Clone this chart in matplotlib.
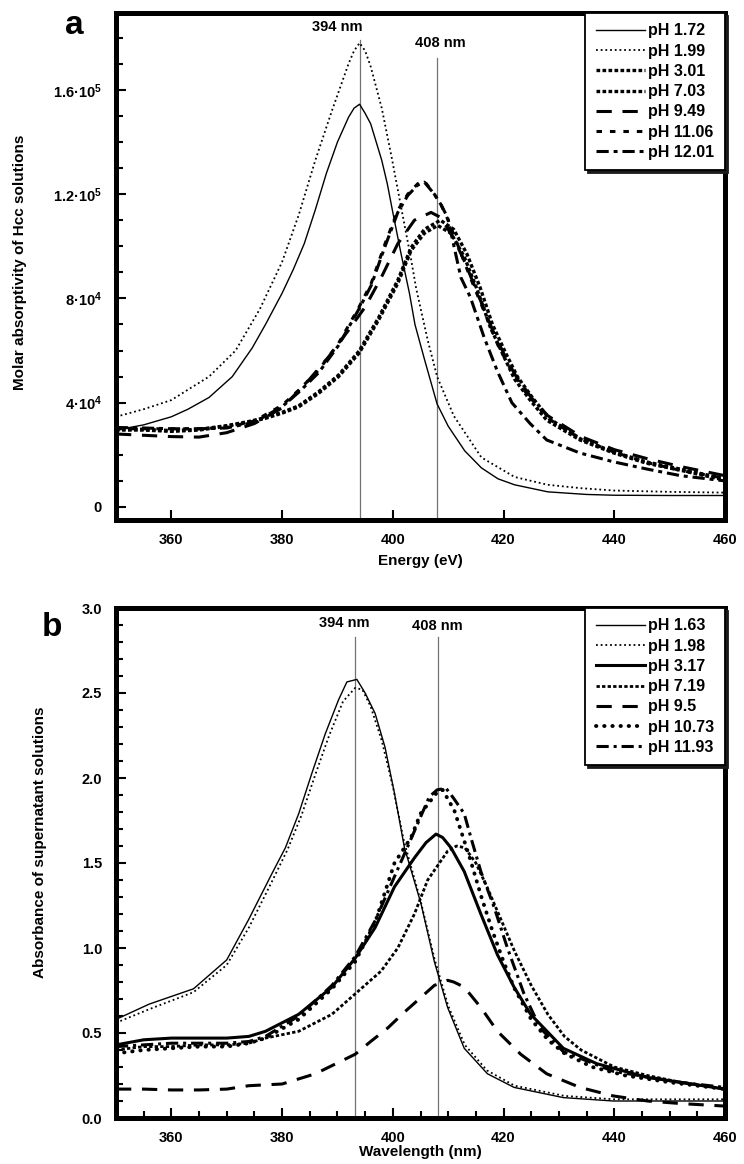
import matplotlib
matplotlib.use("Agg")
import matplotlib.pyplot as plt
from matplotlib.ticker import MultipleLocator

plt.rcParams['font.family'] = ['Liberation Sans', 'DejaVu Sans']
plt.rcParams['font.weight'] = 'bold'
plt.rcParams['mathtext.fontset'] = 'custom'
plt.rcParams['mathtext.rm'] = 'Liberation Sans:bold'
plt.rcParams['mathtext.bf'] = 'Liberation Sans:bold'
plt.rcParams['mathtext.default'] = 'bf'

# ---------------- Panel a data (molar absorptivity) ----------------
a_ph172_x = [350, 355, 360, 363, 366.8, 371, 374.6, 377, 380, 382, 384, 386, 388, 390, 392, 393, 394,
             395, 396, 397, 398, 399, 400, 401.5, 403, 404, 405.8, 408, 410, 413, 416, 419, 422, 428,
             435, 440, 450, 460]
a_ph172_y = [29500, 31500, 34600, 37500, 42000, 50000, 61000, 70000, 82000, 91000, 101000, 114000, 128000,
             140000, 149500, 153000, 154500, 151000, 147000, 140000, 133000, 124000, 113000, 97000, 82000,
             70000, 56000, 39500, 31000, 21500, 15000, 10800, 8500, 5800, 4800, 4500, 4400, 4400]

a_ph199_x = [350, 355, 360, 363, 366.8, 371.6, 376, 378, 380, 383, 386, 389, 392, 393, 394, 395, 396, 398,
             399.8, 401.5, 403.3, 404.2, 406.3, 408, 411, 416, 422, 428, 434, 440, 450, 460]
a_ph199_y = [34600, 37500, 41000, 45000, 50000, 60000, 76000, 85000, 94000, 112000, 133000, 152000, 170000,
             175000, 178000, 175000, 169000, 153000, 134000, 115000, 95000, 84000, 64000, 50000, 35000,
             19000, 11500, 8500, 7200, 6300, 5800, 5500]

a_ph301_x = [350, 355, 360, 365, 370, 374, 377, 380, 383, 386.6, 390.2, 393.9, 397.4, 400.9, 403.3, 405.7,
             408.1, 410.5, 412.9, 415.3, 417.6, 420, 422, 424.8, 427.8, 433.8, 439.9, 445.8, 451.7, 460]
a_ph301_y = [29500, 29500, 29000, 29500, 31000, 32500, 34000, 36000, 38400, 43600, 50000, 59000, 71600,
             85800, 98400, 105000, 108000, 105000, 96000, 83000, 69000, 58000, 49000, 41000, 33300, 25700,
             20700, 16800, 14200, 10300]

a_ph703_x = [350, 355, 360, 365, 370, 374, 377, 380, 383, 386.6, 390.2, 393.9, 397.4, 400.9, 403.3, 405.7,
             408.6, 411, 413.4, 415.8, 418, 420.4, 422.5, 425.2, 428.2, 434, 440, 446, 452, 460]
a_ph703_y = [30000, 29800, 29300, 29800, 31200, 32800, 34300, 36300, 38800, 44200, 50600, 59800, 72500,
             87000, 99500, 106500, 110000, 106500, 97000, 84000, 70000, 59000, 50000, 42000, 34000, 26000,
             21000, 17200, 14500, 10800]

a_ph949_x = [350, 355, 360, 365, 370, 375, 380, 384.8, 388.4, 392, 395, 397.9, 400.9, 403.9, 406.9, 408.7,
             411, 413, 415.3, 418, 420, 422, 425, 428, 434, 440, 446, 452, 460]
a_ph949_y = [28000, 27500, 27000, 26800, 28500, 32000, 38000, 48600, 57600, 67800, 76700, 88000, 101000,
             110000, 113000, 111000, 103000, 94000, 82000, 68000, 59000, 51000, 42000, 35000, 27000, 22000,
             18500, 15500, 12000]

a_ph1106_x = [350, 355, 360, 365, 370, 375, 380, 383, 386.6, 390.2, 393.9, 396.1, 398.6, 400.9, 402.7,
              404.5, 405.7, 407.5, 408.7, 410, 412, 414, 416.5, 419, 421, 424, 428, 434, 440, 446, 452, 460]
a_ph1106_y = [30000, 30000, 30000, 30000, 30500, 33000, 39000, 44800, 52500, 62800, 76700, 85800, 101000,
              113800, 120000, 124000, 125000, 120000, 116000, 110000, 99000, 88000, 75000, 62000, 54000,
              44000, 34000, 26000, 21000, 17000, 14000, 11000]

a_ph1201_x = [350, 355, 360, 365, 370, 375, 380, 383, 386.6, 390.2, 393.9, 396.1, 398.6, 400.9, 402.7,
              404.5, 405.7, 407.5, 408.7, 409.9, 412.3, 414, 416.5, 418.9, 421.5, 424.8, 427.8, 433.8,
              439.9, 446, 452, 460]
a_ph1201_y = [30500, 30300, 30000, 30000, 30300, 32500, 38500, 44000, 51500, 62000, 76000, 85000, 100000,
              113000, 119500, 123500, 124600, 120000, 116000, 111000, 88000, 80500, 65000, 52000, 40000,
              32000, 25700, 20700, 17300, 14500, 12000, 10000]

# ---------------- Panel b data (absorbance) ----------------
b_ph163_x = [350, 356, 364, 370, 374, 378.2, 380.6, 383, 385.4, 387.8, 390.2, 391.7, 393.5, 395, 396.8,
             398.6, 400.3, 402.1, 405.1, 407.5, 409.9, 412.9, 417.1, 421.9, 430.8, 439.8, 450, 460]
b_ph163_y = [0.58, 0.67, 0.76, 0.93, 1.17, 1.44, 1.59, 1.79, 2.03, 2.26, 2.46, 2.565, 2.58, 2.50, 2.38,
             2.18, 1.91, 1.59, 1.26, 0.92, 0.65, 0.41, 0.26, 0.18, 0.12, 0.10, 0.10, 0.10]

b_ph198_x = [350, 356, 364, 370, 374, 378, 381, 383.5, 386, 388.5, 391, 393.2, 394.5, 396, 398, 400, 402,
             405, 407.5, 410, 413, 417, 422, 431, 440, 450, 460]
b_ph198_y = [0.56, 0.64, 0.74, 0.90, 1.12, 1.38, 1.58, 1.78, 2.02, 2.25, 2.45, 2.53, 2.52, 2.42, 2.22,
             1.95, 1.63, 1.28, 0.94, 0.66, 0.43, 0.28, 0.19, 0.13, 0.11, 0.11, 0.11]

b_ph317_x = [350, 355, 360, 365, 370, 374, 377, 383, 389, 393.2, 396.8, 400.3, 403.9, 406, 407.8, 409,
             410.5, 412.9, 415.9, 418.9, 421.9, 424.9, 430.8, 436.8, 445.8, 452, 460]
b_ph317_y = [0.43, 0.46, 0.47, 0.47, 0.47, 0.48, 0.51, 0.61, 0.77, 0.94, 1.12, 1.36, 1.53, 1.62, 1.67,
             1.65, 1.59, 1.45, 1.20, 0.96, 0.77, 0.61, 0.41, 0.32, 0.24, 0.21, 0.17]

b_ph719_x = [350, 355, 360, 365, 370, 374, 377, 383, 389, 393.2, 397.9, 400.9, 403.9, 406.3, 409.9, 411.5,
             413, 415, 417, 419.5, 422, 425, 428, 431, 434, 440, 446, 452, 460]
b_ph719_y = [0.40, 0.42, 0.42, 0.43, 0.43, 0.44, 0.47, 0.51, 0.61, 0.73, 0.865, 1.00, 1.20, 1.40, 1.57,
             1.60, 1.59, 1.50, 1.36, 1.17, 0.98, 0.78, 0.61, 0.48, 0.40, 0.30, 0.25, 0.21, 0.17]

b_ph95_x = [350, 355, 360, 365, 370, 374, 380, 386, 393.2, 396, 399.1, 402, 405.1, 407.5, 409.9, 411,
            412.9, 415.9, 418.9, 423.1, 427.8, 433.8, 439.8, 446, 452, 460]
b_ph95_y = [0.17, 0.17, 0.165, 0.165, 0.17, 0.19, 0.20, 0.26, 0.375, 0.45, 0.53, 0.62, 0.71, 0.78, 0.81,
            0.80, 0.77, 0.65, 0.51, 0.375, 0.26, 0.18, 0.13, 0.10, 0.085, 0.07]

b_ph1073_x = [350, 355, 360, 365, 370, 374, 377, 383, 389, 393.2, 396.8, 400.3, 403.3, 405, 408.1, 409,
              411.1, 412.3, 414, 416, 418, 420, 422, 425, 428, 431, 436, 442, 450, 460]
b_ph1073_y = [0.38, 0.40, 0.41, 0.42, 0.42, 0.44, 0.47, 0.58, 0.76, 0.92, 1.15, 1.50, 1.65, 1.79, 1.92,
              1.93, 1.81, 1.69, 1.52, 1.30, 1.10, 0.92, 0.76, 0.58, 0.46, 0.38, 0.30, 0.25, 0.21, 0.17]

b_ph1193_x = [350, 355, 360, 365, 370, 374, 377, 383, 389, 393.2, 396.8, 400.3, 403, 406.6, 408, 409.6,
              411, 412.9, 414.1, 415.9, 418.3, 420.7, 423.7, 426.6, 430.8, 439.8, 451.8, 460]
b_ph1193_y = [0.42, 0.43, 0.44, 0.44, 0.44, 0.45, 0.48, 0.60, 0.78, 0.95, 1.16, 1.42, 1.62, 1.89, 1.93,
              1.94, 1.88, 1.79, 1.65, 1.45, 1.24, 1.00, 0.73, 0.53, 0.39, 0.275, 0.21, 0.18]

a_labels = ['pH 1.72', 'pH 1.99', 'pH 3.01', 'pH 7.03', 'pH 9.49', 'pH 11.06', 'pH 12.01']
b_labels = ['pH 1.63', 'pH 1.98', 'pH 3.17', 'pH 7.19', 'pH 9.5', 'pH 10.73', 'pH 11.93']

a_yticks = [0, 40000, 80000, 120000, 160000]
a_yticklabels = ['0', '4·10$^{4}$', '8·10$^{4}$', '1.2·10$^{5}$', '1.6·10$^{5}$']
xticks = [360, 380, 400, 420, 440, 460]
b_yticks = [0.0, 0.5, 1.0, 1.5, 2.0, 2.5, 3.0]
ref_lines = [394, 408]

# ---------------- Figure ----------------
W, H = 744, 1164
fig = plt.figure(figsize=(W / 100, H / 100), dpi=100)
ax_a = fig.add_axes([116 / W, 1 - 520 / H, 609 / W, 507 / H])
ax_b = fig.add_axes([116 / W, 1 - 1118 / H, 609 / W, 510 / H])

K = 'black'
a_styles = [
    dict(ls='-', lw=1.0),
    dict(ls=(0, (1, 1.6)), lw=1.3),
    dict(ls=(0, (1.1, 0.7)), lw=2.4),
    dict(ls=(0, (1.1, 0.7)), lw=2.4),
    dict(ls=(0, (5, 3.5)), lw=2.2),
    dict(ls=(0, (1.8, 2.6)), lw=2.2),
    dict(ls=(0, (4, 1.6, 1.3, 1.6)), lw=2.2),
]
a_data = [(a_ph172_x, a_ph172_y), (a_ph199_x, a_ph199_y), (a_ph301_x, a_ph301_y),
          (a_ph703_x, a_ph703_y), (a_ph949_x, a_ph949_y), (a_ph1106_x, a_ph1106_y),
          (a_ph1201_x, a_ph1201_y)]
for (x, y), st, lab in zip(a_data, a_styles, a_labels):
    ax_a.plot(x, y, color=K, label=lab, **st)

b_styles = [
    dict(ls='-', lw=1.0),
    dict(ls=(0, (1, 1.6)), lw=1.3),
    dict(ls='-', lw=2.2),
    dict(ls=(0, (1.2, 0.8)), lw=2.0),
    dict(ls=(0, (5, 3.5)), lw=2.2),
    dict(ls=(0, (0.1, 2.0)), lw=2.8, dash_capstyle='round'),
    dict(ls=(0, (4, 1.6, 1.0, 1.6)), lw=2.2),
]
b_data = [(b_ph163_x, b_ph163_y), (b_ph198_x, b_ph198_y), (b_ph317_x, b_ph317_y),
          (b_ph719_x, b_ph719_y), (b_ph95_x, b_ph95_y), (b_ph1073_x, b_ph1073_y),
          (b_ph1193_x, b_ph1193_y)]
for (x, y), st, lab in zip(b_data, b_styles, b_labels):
    ax_b.plot(x, y, color=K, label=lab, **st)

# reference lines and labels
ax_a.axvline(ref_lines[0], ymin=0, ymax=0.947, color='0.45', lw=0.9, zorder=0)
ax_a.axvline(ref_lines[1], ymin=0, ymax=0.911, color='0.45', lw=0.9, zorder=0)
ax_a.text(390, 0.972, '394 nm', transform=ax_a.get_xaxis_transform(), ha='center', va='center',
          fontsize=10.5, fontweight='bold')
ax_a.text(408.5, 0.941, '408 nm', transform=ax_a.get_xaxis_transform(), ha='center', va='center',
          fontsize=10.5, fontweight='bold')

ax_b.axvline(393.2, ymin=0, ymax=0.943, color='0.45', lw=0.9, zorder=0)
ax_b.axvline(408.1, ymin=0, ymax=0.943, color='0.45', lw=0.9, zorder=0)
ax_b.text(391.3, 0.971, '394 nm', transform=ax_b.get_xaxis_transform(), ha='center', va='center',
          fontsize=10.5, fontweight='bold')
ax_b.text(408.1, 0.965, '408 nm', transform=ax_b.get_xaxis_transform(), ha='center', va='center',
          fontsize=10.5, fontweight='bold')

for ax in (ax_a, ax_b):
    ax.set_xlim(350, 460)
    ax.set_xticks(xticks)
    for s in ax.spines.values():
        s.set_linewidth(3.6)
    ax.tick_params(which='both', direction='in', top=False, right=False, labelsize=10.5, width=1.5)
    ax.tick_params(which='major', length=7)
    ax.tick_params(which='minor', length=5)
    ax.tick_params(axis='y', pad=10)
    ax.tick_params(axis='x', pad=9)

ax_a.set_ylim(-5000, 189500)
ax_a.set_yticks(a_yticks)
ax_a.set_yticklabels(a_yticklabels, fontweight='bold')
ax_a.yaxis.set_minor_locator(MultipleLocator(10000))
ax_a.set_xticklabels([str(v) for v in xticks], fontweight='bold')

ax_b.set_ylim(0, 3.0)
ax_b.set_yticks(b_yticks)
ax_b.set_yticklabels([f'{v:.1f}' for v in b_yticks], fontweight='bold')
ax_b.yaxis.set_minor_locator(MultipleLocator(0.1))
ax_b.xaxis.set_minor_locator(MultipleLocator(5))
ax_b.set_xticklabels([str(v) for v in xticks], fontweight='bold')

ax_a.set_xlabel('Energy (eV)', fontsize=11, fontweight='bold')
ax_a.xaxis.set_label_coords(0.5, -0.068)
ax_b.set_xlabel('Wavelength (nm)', fontsize=11, fontweight='bold')
ax_b.xaxis.set_label_coords(0.5, -0.053)

fig.text(20 / W, 1 - 262 / H, 'Molar absorptivity of Hcc solutions', rotation=90, ha='center',
         va='center', fontsize=11, fontweight='bold')
fig.text(40 / W, 1 - 842 / H, 'Absorbance of supernatant solutions', rotation=90, ha='center',
         va='center', fontsize=11, fontweight='bold')

fig.text(74 / W, 1 - 26 / H, 'a', ha='center', va='center', fontsize=24, fontweight='bold')
fig.text(52 / W, 1 - 628 / H, 'b', ha='center', va='center', fontsize=24, fontweight='bold')

for ax in (ax_a, ax_b):
    leg = ax.legend(loc='upper right', bbox_to_anchor=(1, 1), borderaxespad=0, fancybox=False,
                    shadow={'color': '0.1', 'alpha': 1}, frameon=True, fontsize=11.5,
                    handlelength=3.1, handletextpad=0.2, labelspacing=0.33, borderpad=0.65)
    leg.get_frame().set_edgecolor('black')
    leg.get_frame().set_linewidth(1.3)
    for t in leg.get_texts():
        t.set_fontweight('bold')

fig.savefig('out.png', dpi=100)
